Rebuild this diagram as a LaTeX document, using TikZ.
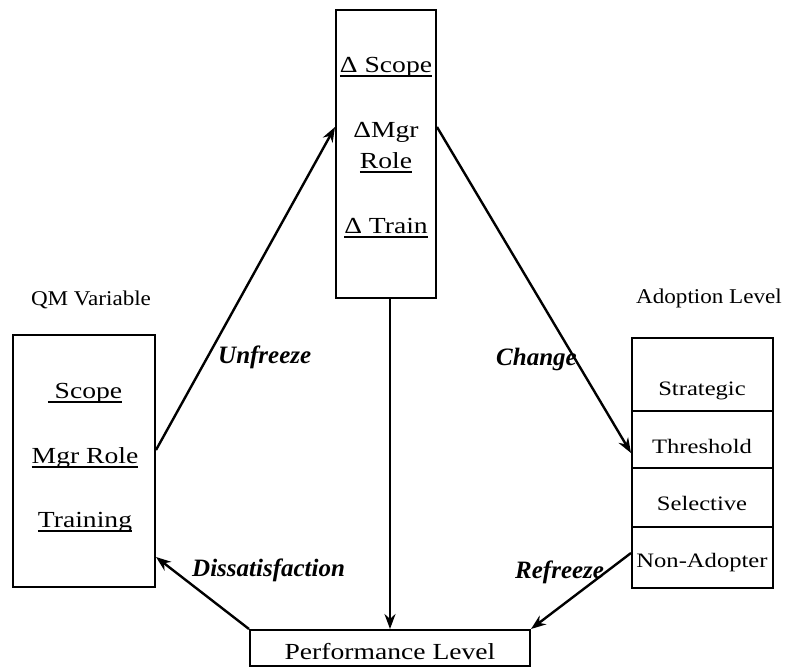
\documentclass[tikz,border=0pt]{standalone}
\usepackage{fontspec}
\setmainfont{Liberation Serif}
\newfontfamily\boxfont[FakeStretch=1.2]{Liberation Serif}
\newfontfamily\headfont[FakeStretch=1.1]{Liberation Serif}
\usetikzlibrary{arrows.meta}
\newcommand{\ulx}[1]{\setbox0\hbox{#1}\rlap{\rule[-4.5pt]{\wd0}{1.6pt}}\box0}
\tikzset{
  box/.style={draw, line width=2pt, inner sep=0pt},
  conn/.style={line width=2.4pt, -{Stealth[length=15pt,width=11pt]}},
  lbl/.style={font=\bfseries\itshape\fontsize{25}{30}\selectfont, inner sep=0pt},
  bt/.style={font=\boxfont\fontsize{23}{28}\selectfont, inner sep=0pt, anchor=base},
  rt/.style={font=\boxfont\fontsize{20.5}{25}\selectfont, inner sep=0pt, anchor=base},
  ht/.style={font=\headfont\fontsize{21}{25}\selectfont, inner sep=0pt, anchor=base}
}
\begin{document}
\begin{tikzpicture}[x=1pt,y=-1pt]
\useasboundingbox[fill=white] (0,0) rectangle (786,667);
% boxes
\node[box, minimum width=142pt, minimum height=252pt] (lbox) at (84,461) {};
\node[box, minimum width=100pt, minimum height=288pt] (tbox) at (386,154) {};
\node[box, minimum width=141pt, minimum height=73pt] (c1) at (702.5,374.5) {};
\node[box, minimum width=141pt, minimum height=57pt] (c2) at (702.5,439.5) {};
\node[box, minimum width=141pt, minimum height=59pt] (c3) at (702.5,497.5) {};
\node[box, minimum width=141pt, minimum height=61pt] (c4) at (702.5,557.5) {};
\node[box, minimum width=280pt, minimum height=36pt] (pbox) at (390,648) {};
% headings
\node[ht] (hq) at (91,305) {QM Variable};
\node[ht] (ha) at (709,303) {Adoption Level};
% left box text
\node[bt] (t1) at (85,398) {\ulx{\ Scope}};
\node[bt] (t2) at (85,463) {\ulx{Mgr Role}};
\node[bt] (t3) at (85,527) {\ulx{Training}};
% top box text
\node[bt] (d1) at (386,72) {\ulx{Δ Scope}};
\node[bt] (d2) at (386,137) {ΔMgr};
\node[bt] (d3) at (386,168) {\ulx{Role}};
\node[bt] (d4) at (386,233) {\ulx{Δ Train}};
% right box text
\node[rt] (r1) at (702,395) {Strategic};
\node[rt] (r2) at (702,453) {Threshold};
\node[rt] (r3) at (702,510) {Selective};
\node[rt] (r4) at (702,567) {Non-Adopter};
% performance
\node[bt] (pt) at (390,659) {Performance Level};
% connectors
\draw[conn] ([yshift=11pt]lbox.east) -- ([yshift=27pt]tbox.west);
\draw[conn] ([yshift=27pt]tbox.east) -- ([yshift=-13.5pt]c2.west);
\draw[conn] (tbox.south -| pbox.north) -- (pbox.north);
\draw[conn] (pbox.north west) -- ([yshift=-96pt]lbox.east);
\draw[conn] ([yshift=4.5pt]c4.west) -- (pbox.north east);
% labels
\node[lbl, anchor=base west] (lu) at (218,363) {Unfreeze};
\node[lbl, anchor=base east] (lc) at (577,365) {Change};
\node[lbl, anchor=base west] (ld) at (192,576) {Dissatisfaction};
\node[lbl, anchor=base west] (lr) at (515,578) {Refreeze};
\end{tikzpicture}
\end{document}
